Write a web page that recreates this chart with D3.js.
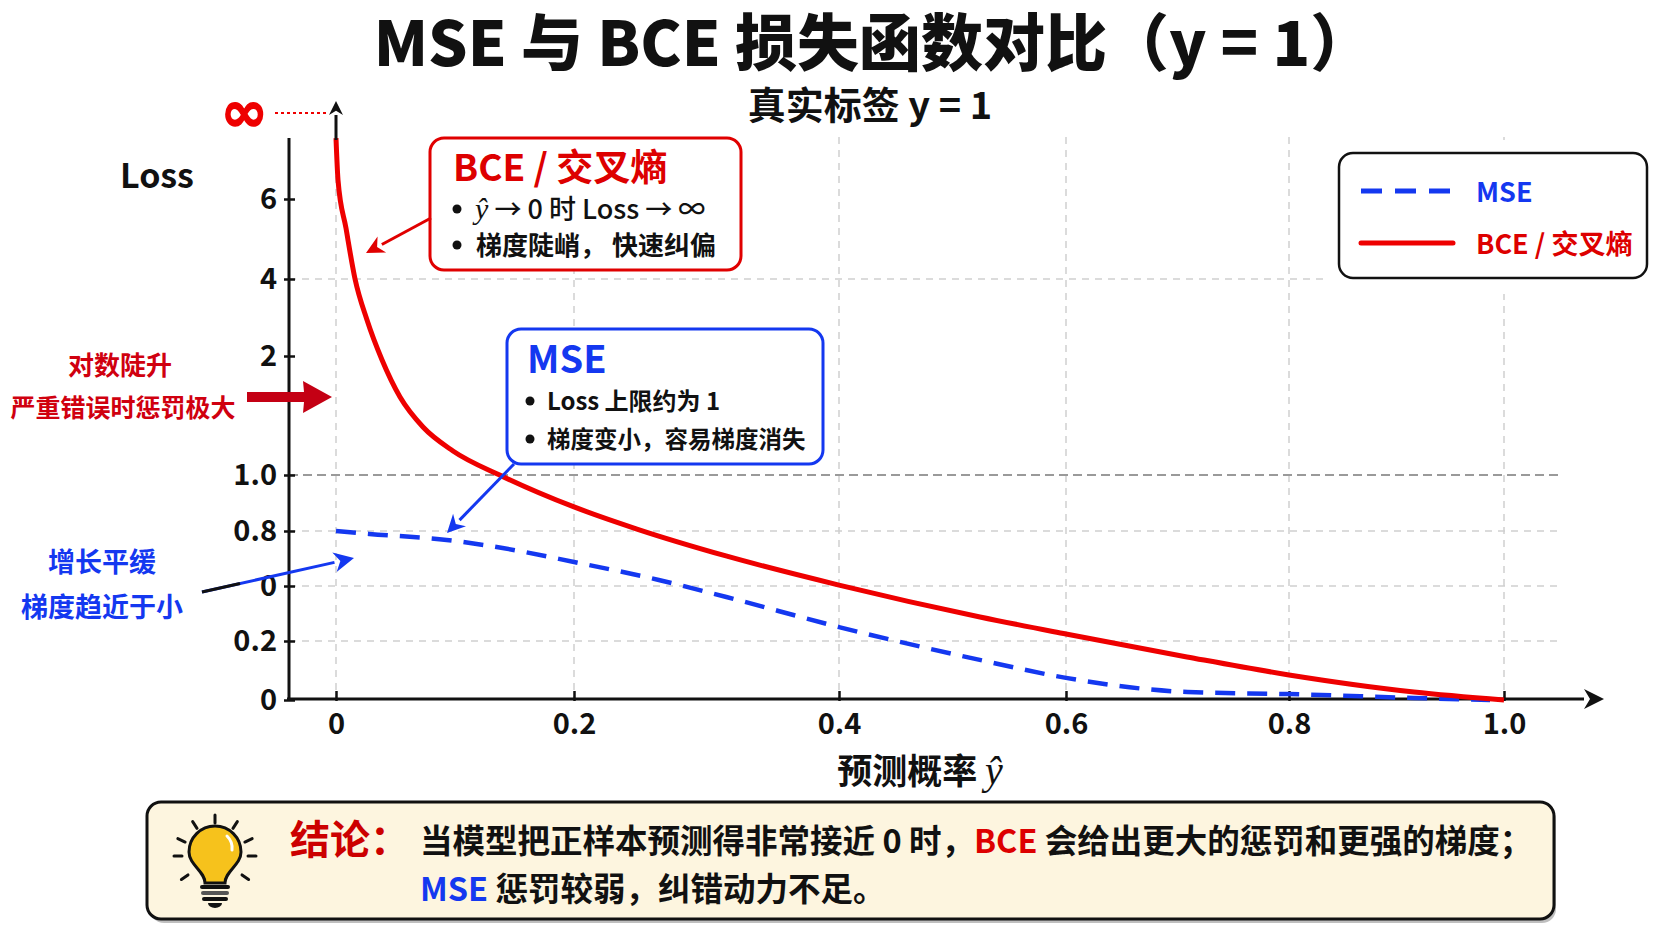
<!DOCTYPE html>
<html>
<head>
<meta charset="utf-8">
<script src="https://cdn.jsdelivr.net/npm/d3@7"></script>
<style>
  body { margin: 0; background: #fff; }
  svg text { font-family: 'Noto Sans CJK SC', 'Noto Sans', sans-serif; font-weight: 700; }
</style>
</head>
<body>
<div id="chart"></div>
<script>
/* Data */
var xTicks = [0, 0.2, 0.4, 0.6, 0.8, 1.0];
var xTickLabels = ['0', '0.2', '0.4', '0.6', '0.8', '1.0'];
var yTicks = [0, 0.2, 0.5, 0.8, 1.0, 2, 4, 6];
var yTickLabels = ['0', '0.2', '0', '0.8', '1.0', '2', '4', '6'];
var yGridValues = [0.2, 0.5, 0.8, 1.0, 4];

var bceProb = [0, 0.0017, 0.0084, 0.016, 0.026, 0.0387, 0.0538, 0.0731, 0.0983, 0.1395, 0.2, 0.2475, 0.3147, 0.400, 0.5242, 0.600, 0.7085, 0.800, 0.9163, 1.000];
var bceLoss = [7.52, 6.47, 5.27, 4.0, 2.94, 1.966, 1.655, 1.403, 1.202, 0.996, 0.886, 0.807, 0.664, 0.505, 0.331, 0.238, 0.146, 0.085, 0.027, 0.0];
var mseProb = [0, 0.028, 0.093, 0.140, 0.200, 0.264, 0.315, 0.400, 0.524, 0.600, 0.709, 0.800, 0.916, 0.987];
var mseLoss = [0.8, 0.784, 0.751, 0.707, 0.631, 0.533, 0.44, 0.276, 0.136, 0.075, 0.027, 0.020, 0.007, 0.0];

var width = 1672;
var height = 941;

var red = '#ee0000';
var blue = '#1438f0';

var series = [
	{ name: 'MSE', color: blue, dash: '20,12', values: mseProb.map((p, i) => ({ p: p, loss: mseLoss[i] })) },
	{ name: 'BCE / 交叉熵', color: red, dash: null, values: bceProb.map((p, i) => ({ p: p, loss: bceLoss[i] })) }
];

/* Scales (the picture uses a broken, uneven axis) */
var xScale = d3.scaleLinear().domain(xTicks).range([336, 574, 839, 1066, 1289, 1504]);
var yScale = d3.scaleLinear().domain(yTicks).range([700, 641, 586, 531, 475, 356, 279, 199]);

var svg = d3
	.select('#chart')
	.append('svg')
	.attr('width', width)
	.attr('height', height);

/* helper: straight arrow with filled head */
function arrow(g, x1, y1, x2, y2, color, w, head) {
	var a = Math.atan2(y2 - y1, x2 - x1);
	var bx = x2 - head * Math.cos(a), by = y2 - head * Math.sin(a);
	g.append('line').attr('x1', x1).attr('y1', y1).attr('x2', bx).attr('y2', by)
		.attr('stroke', color).attr('stroke-width', w);
	var s = head * 0.5;
	var pts = [
		[x2, y2],
		[bx + s * Math.sin(a), by - s * Math.cos(a)],
		[x2 - head * 0.7 * Math.cos(a), y2 - head * 0.7 * Math.sin(a)],
		[bx - s * Math.sin(a), by + s * Math.cos(a)]
	];
	g.append('path').attr('d', 'M' + pts.join('L') + 'Z').attr('fill', color);
}

/* Titles */
svg.append('text').attr('x', 873).attr('y', 66).attr('text-anchor', 'middle')
	.style('font-size', '62px').style('font-weight', 900).attr('fill', '#111')
	.text('MSE 与 BCE 损失函数对比（y = 1）');
svg.append('text').attr('x', 870).attr('y', 119).attr('text-anchor', 'middle')
	.style('font-size', '38px').attr('fill', '#111')
	.text('真实标签 y = 1');

/* Grid */
var grid = svg.append('g').attr('class', 'grid');
grid.selectAll('.vgrid')
	.data(xTicks)
	.enter()
	.append('line')
	.attr('x1', d => xScale(d)).attr('x2', d => xScale(d))
	.attr('y1', 137).attr('y2', yScale(0))
	.attr('stroke', '#cfcfcf').attr('stroke-width', 1.5).attr('stroke-dasharray', '7,6');
grid.selectAll('.hgrid')
	.data(yGridValues)
	.enter()
	.append('line')
	.attr('x1', 289).attr('x2', 1558)
	.attr('y1', d => yScale(d)).attr('y2', d => yScale(d))
	.attr('stroke', d => d === 1 ? '#9a9a9a' : '#cfcfcf')
	.attr('stroke-width', d => d === 1 ? 2 : 1.5)
	.attr('stroke-dasharray', d => d === 1 ? '9,5' : '7,6');

/* Axes */
var yAxis = d3.axisLeft(yScale).tickValues(yTicks).tickFormat((d, i) => yTickLabels[i]).tickSize(4).tickPadding(8);
var gy = svg.append('g').attr('transform', 'translate(289,0)').call(yAxis);
gy.select('.domain').remove();
gy.selectAll('.tick line').attr('x2', 6).attr('x1', -5).attr('stroke', '#111').attr('stroke-width', 2.5);
gy.selectAll('.tick text').attr('x', -12).style('font-size', '29px').attr('fill', '#111');

var xAxis = d3.axisBottom(xScale).tickValues(xTicks).tickFormat((d, i) => xTickLabels[i]).tickSize(0);
var gx = svg.append('g').attr('transform', 'translate(0,699)').call(xAxis);
gx.select('.domain').remove();
gx.selectAll('.tick line').attr('y1', -8).attr('y2', 2).attr('stroke', '#111').attr('stroke-width', 2.5);
gx.selectAll('.tick text').attr('y', 14).attr('dy', '0.71em').style('font-size', '29px').attr('fill', '#111');

svg.append('line').attr('x1', 289).attr('x2', 289).attr('y1', 138).attr('y2', 700)
	.attr('stroke', '#111').attr('stroke-width', 3);
arrow(svg, 287, 699, 1604, 699, '#111', 3, 20);

/* Lines */
var line = d3.line()
	.x(d => xScale(d.p))
	.y(d => yScale(d.loss))
	.curve(d3.curveMonotoneX);

svg.append('g').attr('class', 'lines')
	.selectAll('path')
	.data(series)
	.enter()
	.append('path')
	.attr('d', d => line(d.values))
	.attr('fill', 'none')
	.attr('stroke', d => d.color)
	.attr('stroke-width', d => d.dash ? 4.5 : 5)
	.attr('stroke-dasharray', d => d.dash);

/* infinity marker at the top of the BCE curve */
arrow(svg, 336, 140, 336, 101, '#111', 3, 14);
svg.append('line').attr('x1', 275).attr('x2', 329).attr('y1', 113).attr('y2', 113)
	.attr('stroke', red).attr('stroke-width', 2).attr('stroke-dasharray', '3,3');
svg.append('text').attr('x', 244).attr('y', 131).attr('text-anchor', 'middle')
	.style('font-family', 'DejaVu Sans').style('font-size', '56px')
	.attr('fill', red).attr('stroke', red).attr('stroke-width', 1.5).text('∞');

/* Loss label */
svg.append('text').attr('x', 120).attr('y', 188).style('font-size', '34px').attr('fill', '#111').text('Loss');

/* x label */
var xl = svg.append('text').attr('x', 920).attr('y', 784).attr('text-anchor', 'middle')
	.style('font-size', '35px').attr('fill', '#111');
xl.append('tspan').text('预测概率 ');
xl.append('tspan').style('font-family', 'Liberation Serif').style('font-style', 'italic').style('font-weight', 400)
	.style('font-size', '40px').text('ŷ');

/* bullet dot helper */
function bullet(g, x, y) {
	g.append('circle').attr('cx', x).attr('cy', y).attr('r', 4.5).attr('fill', '#111');
}

/* BCE annotation box */
var bceBox = svg.append('g');
bceBox.append('rect').attr('x', 430).attr('y', 138).attr('width', 311).attr('height', 132).attr('rx', 14)
	.attr('fill', '#fff').attr('stroke', '#e00000').attr('stroke-width', 3);
bceBox.append('text').attr('x', 453).attr('y', 181).style('font-size', '37px').attr('fill', '#dd0000').text('BCE / 交叉熵');
bullet(bceBox, 457, 209);
var b1 = bceBox.append('text').attr('x', 475).attr('y', 219).style('font-size', '27px').attr('fill', '#111');
b1.append('tspan').style('font-family', 'Liberation Serif').style('font-style', 'italic').style('font-weight', 400)
	.style('font-size', '30px').text('ŷ');
b1.append('tspan').style('font-weight', 500).text(' → 0 时 Loss → ∞');
bullet(bceBox, 457, 245);
bceBox.append('text').attr('x', 476).attr('y', 255).style('font-size', '26px').attr('fill', '#111')
	.text('梯度陡峭， 快速纠偏');
arrow(svg, 431, 218, 366, 253, '#e00000', 3, 18);

/* MSE annotation box */
var mseBox = svg.append('g');
mseBox.append('rect').attr('x', 507).attr('y', 329).attr('width', 316).attr('height', 135).attr('rx', 14)
	.attr('fill', '#fff').attr('stroke', blue).attr('stroke-width', 3);
mseBox.append('text').attr('x', 527).attr('y', 373).style('font-size', '38px').attr('fill', blue).text('MSE');
bullet(mseBox, 530, 401);
mseBox.append('text').attr('x', 547).attr('y', 410).style('font-size', '24px').attr('fill', '#111')
	.text('Loss 上限约为 1');
bullet(mseBox, 530, 439);
mseBox.append('text').attr('x', 547).attr('y', 448).style('font-size', '23.5px').attr('fill', '#111')
	.text('梯度变小，容易梯度消失');
arrow(svg, 514, 464, 447, 533, blue, 3, 18);

/* left side notes */
svg.append('text').attr('x', 120).attr('y', 375).attr('text-anchor', 'middle')
	.style('font-size', '26px').attr('fill', '#d0000f').text('对数陡升');
svg.append('text').attr('x', 123).attr('y', 417).attr('text-anchor', 'middle')
	.style('font-size', '25px').attr('fill', '#d0000f').text('严重错误时惩罚极大');
svg.append('path')
	.attr('d', 'M247,392 L304,392 L303,381 L332,397 L303,413 L304,402 L247,402 Z')
	.attr('fill', '#c40014');

svg.append('text').attr('x', 102).attr('y', 572).attr('text-anchor', 'middle')
	.style('font-size', '27px').attr('fill', blue).text('增长平缓');
svg.append('text').attr('x', 102).attr('y', 617).attr('text-anchor', 'middle')
	.style('font-size', '27px').attr('fill', blue).text('梯度趋近于小');
arrow(svg, 202, 592, 354, 558, blue, 3, 20);
svg.append('line').attr('x1', 202).attr('y1', 592).attr('x2', 240).attr('y2', 583.5)
	.attr('stroke', '#111').attr('stroke-width', 3);

/* Legend */
var legend = svg.append('g');
legend.append('rect').attr('x', 1325).attr('y', 140).attr('width', 340).attr('height', 154).attr('fill', '#fff');
legend.append('rect').attr('x', 1339).attr('y', 153).attr('width', 308).attr('height', 125).attr('rx', 14)
	.attr('fill', '#fff').attr('stroke', '#111').attr('stroke-width', 2.5);
var item = legend.selectAll('.item')
	.data(series)
	.enter()
	.append('g')
	.attr('transform', (d, i) => `translate(1361, ${191 + i * 52})`);
item.append('line').attr('x1', 0).attr('x2', 92)
	.attr('stroke', d => d.color).attr('stroke-width', 5)
	.attr('stroke-dasharray', d => d.dash ? '21,13' : null)
	.attr('stroke-linecap', d => d.dash ? 'butt' : 'round');
item.append('text').attr('x', 115).attr('y', 11).style('font-size', '27px')
	.attr('fill', d => d.color === red ? '#dd0000' : blue).text(d => d.name);

/* Conclusion box */
var note = svg.append('g');
note.append('rect').attr('x', 150).attr('y', 806).attr('width', 1406).attr('height', 117).attr('rx', 14)
	.attr('fill', 'rgba(0,0,0,0.25)');
note.append('rect').attr('x', 147).attr('y', 802).attr('width', 1407).attr('height', 117).attr('rx', 14)
	.attr('fill', '#fdf5df').attr('stroke', '#111').attr('stroke-width', 3);

var bulb = note.append('g').attr('transform', 'translate(215,856)');
[-90, -57, -25, 0, 35, 145, 180, 205, 237].forEach(function(a) {
	var r = a * Math.PI / 180;
	bulb.append('line')
		.attr('x1', 33 * Math.cos(r)).attr('y1', 33 * Math.sin(r))
		.attr('x2', 41 * Math.cos(r)).attr('y2', 41 * Math.sin(r))
		.attr('stroke', '#111').attr('stroke-width', 3).attr('stroke-linecap', 'round');
});
bulb.append('path')
	.attr('d', 'M-10,27 C-10,15 -26,9 -26,-4 A26,26 0 1 1 26,-4 C26,9 10,15 10,27 Z')
	.attr('fill', '#f6c21c').attr('stroke', '#111').attr('stroke-width', 3);
bulb.append('path').attr('d', 'M12,-20 A17,17 0 0 1 17,-6')
	.attr('fill', 'none').attr('stroke', '#fff').attr('stroke-width', 3).attr('stroke-linecap', 'round');
[31, 37, 43].forEach(function(y, i) {
	bulb.append('line').attr('x1', -13 + i).attr('x2', 13 - i).attr('y1', y).attr('y2', y)
		.attr('stroke', i === 1 ? '#555' : '#111').attr('stroke-width', 4).attr('stroke-linecap', 'round');
});
bulb.append('path').attr('d', 'M-7,47 L7,47 A7,5 0 0 1 -7,47 Z').attr('fill', '#111');

note.append('text').attr('x', 290).attr('y', 854).style('font-size', '40px').attr('fill', '#cc0000').text('结论：');
var l1 = note.append('text').attr('x', 420).attr('y', 853).style('font-size', '32.5px').attr('fill', '#111');
l1.append('tspan').text('当模型把正样本预测得非常接近 0 时，');
l1.append('tspan').attr('fill', '#dd0000').text('BCE');
l1.append('tspan').text(' 会给出更大的惩罚和更强的梯度；');
var l2 = note.append('text').attr('x', 420).attr('y', 901).style('font-size', '32.5px').attr('fill', '#111');
l2.append('tspan').attr('fill', blue).text('MSE');
l2.append('tspan').text(' 惩罚较弱，纠错动力不足。');
</script>
</body>
</html>
